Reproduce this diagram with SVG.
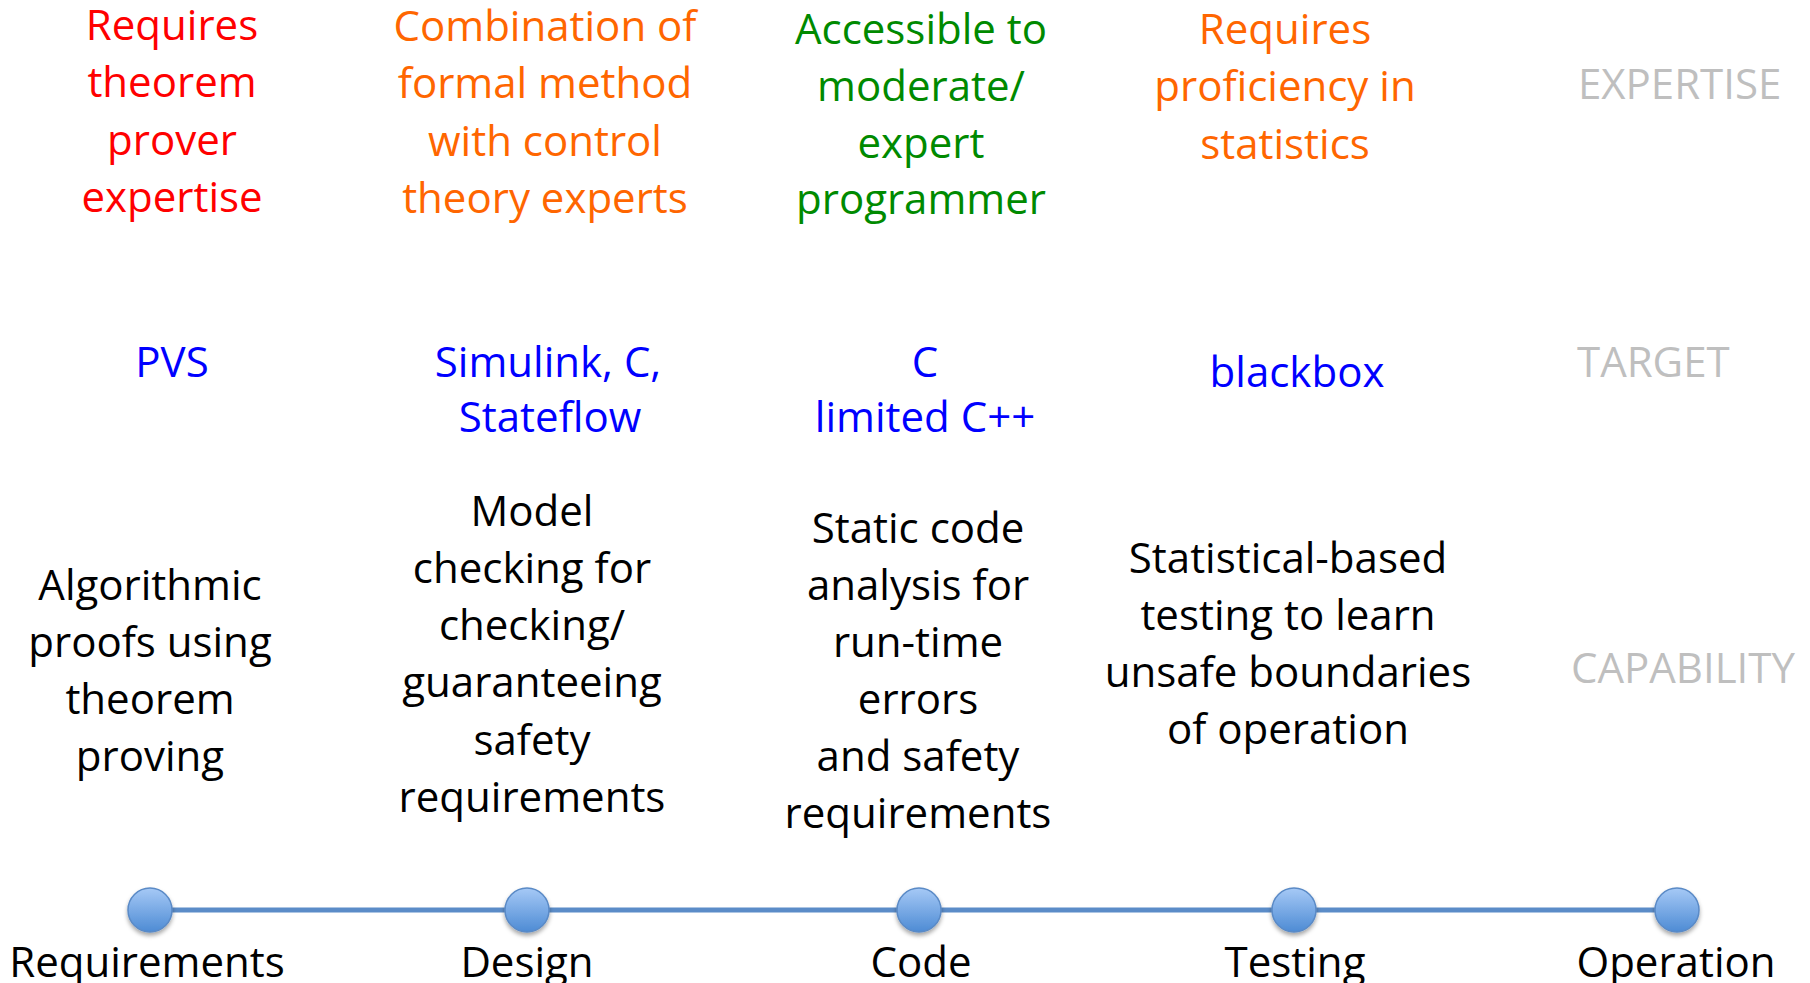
<svg xmlns="http://www.w3.org/2000/svg" width="1810" height="983" viewBox="0 0 1810 983">
<style>
  text { font-family: "Open Sans", "Noto Sans", "Liberation Sans", sans-serif; font-size: 42px; text-anchor: middle; }
  .red { fill: #ff0000; }
  .orange { fill: #ff6600; }
  .green { fill: #008a00; }
  .blue { fill: #0000ff; }
  .black { fill: #000000; }
  .gray { fill: #bfbfbf; text-anchor: start; }
  .dot { fill: url(#dotGrad); stroke: #5a8ac6; stroke-width: 1.5; filter: url(#shadow); }
  .timeline { stroke: #5b8cc8; stroke-width: 5; fill: none; }
</style>
<defs>
  <linearGradient id="dotGrad" x1="0" y1="0" x2="0" y2="1">
    <stop offset="0" stop-color="#a6c9f6"/>
    <stop offset="1" stop-color="#4d8bd4"/>
  </linearGradient>
  <filter id="shadow" x="-50%" y="-50%" width="200%" height="200%">
    <feDropShadow dx="0" dy="3" stdDeviation="2" flood-color="#000000" flood-opacity="0.35"/>
  </filter>
</defs>
<rect x="0" y="0" width="1810" height="983" fill="#ffffff"/>

<!-- Row labels -->
<g id="label-expertise"><text class="gray" x="1578" y="99">EXPERTISE</text></g>
<g id="label-target"><text class="gray" x="1577" y="377">TARGET</text></g>
<g id="label-capability"><text class="gray" x="1571" y="683">CAPABILITY</text></g>

<!-- Expertise row -->
<g id="expertise-requirements" class="red">
  <text x="172" y="40">Requires</text>
  <text x="172" y="97">theorem</text>
  <text x="172" y="154.5">prover</text>
  <text x="172" y="211.5">expertise</text>
</g>
<g id="expertise-design" class="orange">
  <text x="545" y="40.5">Combination of</text>
  <text x="545" y="98">formal method</text>
  <text x="545" y="156">with control</text>
  <text x="545" y="213">theory experts</text>
</g>
<g id="expertise-code" class="green">
  <text x="921" y="43.5">Accessible to</text>
  <text x="921" y="100.5">moderate/</text>
  <text x="921" y="158">expert</text>
  <text x="921" y="214">programmer</text>
</g>
<g id="expertise-testing" class="orange">
  <text x="1285" y="44">Requires</text>
  <text x="1285" y="101">proficiency in</text>
  <text x="1285" y="159">statistics</text>
</g>

<!-- Target row -->
<g id="target-requirements" class="blue">
  <text x="172" y="377">PVS</text>
</g>
<g id="target-design" class="blue">
  <text x="548" y="377">Simulink, C,</text>
  <text x="550" y="432">Stateflow</text>
</g>
<g id="target-code" class="blue">
  <text x="925" y="377">C</text>
  <text x="925" y="432">limited C++</text>
</g>
<g id="target-testing" class="blue">
  <text x="1297" y="387">blackbox</text>
</g>

<!-- Capability row -->
<g id="capability-requirements" class="black">
  <text x="150" y="600">Algorithmic</text>
  <text x="150" y="657">proofs using</text>
  <text x="150" y="714">theorem</text>
  <text x="150" y="771">proving</text>
</g>
<g id="capability-design" class="black">
  <text x="532" y="526">Model</text>
  <text x="532" y="583">checking for</text>
  <text x="532" y="640">checking/</text>
  <text x="532" y="697">guaranteeing</text>
  <text x="532" y="755">safety</text>
  <text x="532" y="812">requirements</text>
</g>
<g id="capability-code" class="black">
  <text x="918" y="543">Static code</text>
  <text x="918" y="600">analysis for</text>
  <text x="918" y="657">run-time</text>
  <text x="918" y="714">errors</text>
  <text x="918" y="771">and safety</text>
  <text x="918" y="828">requirements</text>
</g>
<g id="capability-testing" class="black">
  <text x="1288" y="573">Statistical-based</text>
  <text x="1288" y="630">testing to learn</text>
  <text x="1288" y="687">unsafe boundaries</text>
  <text x="1288" y="744">of operation</text>
</g>

<!-- Connectors (timeline) -->
<g id="connectors">
  <line class="timeline" x1="150" y1="910" x2="527" y2="910"/>
  <line class="timeline" x1="527" y1="910" x2="919" y2="910"/>
  <line class="timeline" x1="919" y1="910" x2="1294" y2="910"/>
  <line class="timeline" x1="1294" y1="910" x2="1677" y2="910"/>
</g>

<!-- Stage nodes -->
<g id="stage-requirements">
  <circle class="dot" cx="150" cy="910" r="22"/>
  <text class="black" x="147" y="977">Requirements</text>
</g>
<g id="stage-design">
  <circle class="dot" cx="527" cy="910" r="22"/>
  <text class="black" x="527" y="977">Design</text>
</g>
<g id="stage-code">
  <circle class="dot" cx="919" cy="910" r="22"/>
  <text class="black" x="921" y="977">Code</text>
</g>
<g id="stage-testing">
  <circle class="dot" cx="1294" cy="910" r="22"/>
  <text class="black" x="1295" y="977">Testing</text>
</g>
<g id="stage-operation">
  <circle class="dot" cx="1677" cy="910" r="22"/>
  <text class="black" x="1676" y="977">Operation</text>
</g>
</svg>
